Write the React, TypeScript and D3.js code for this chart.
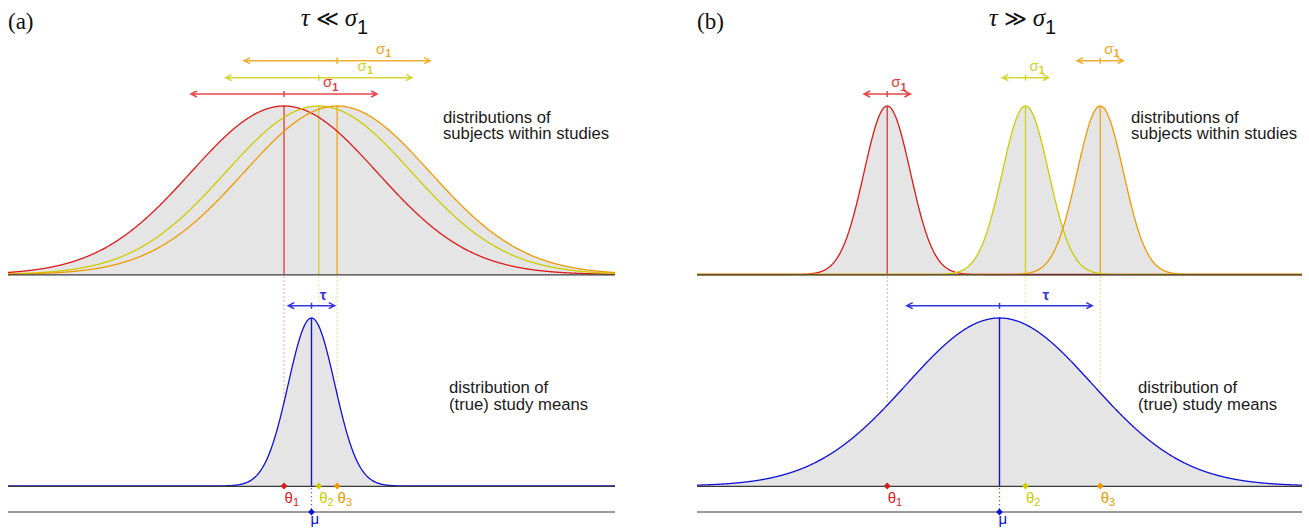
import React from "react";
import * as d3 from "d3";

// ---------- data ----------
const panelLabels = ["(a)", "(b)"];
const titleRelations = ["\u226A", "\u226B"];
const muValues = [0, 0];
const tauValues = [0.25, 1];
const sigmaValues = [1, 0.25];
const thetaA = [-0.295, 0.078, 0.275];
const thetaB = [-1.21, 0.28, 1.086];
const thetaSets = [thetaA, thetaB];
const studySubscripts = ["1", "2", "3"];
const studyColors = ["#dd1a1a", "#cccc00", "#ee9a00"];
const muColor = "#1010dd";
const topText = ["distributions of", "subjects within studies"];
const bottomText = ["distribution of", "(true) study means"];
const xDomain = [-3.26, 3.26];

// ---------- layout ----------
const W = 1309;
const H = 529;
const panelRanges = [
  [8, 615],
  [697, 1302],
];
const topBase = 274.5;
const topPeak = 106;
const botBase = 486;
const botPeak = 318;
const axisY = 512;
const sigmaArrowY = [94, 77.7, 60.7];
const tauArrowY = 305.7;

const FILL = "#e5e5e5";
const BASE = "#3a3a3a";
const SANS = "Liberation Sans, Arial, Helvetica, sans-serif";

const shape = (x: number, m: number, s: number) =>
  Math.exp(-0.5 * ((x - m) / s) * ((x - m) / s));

function Arrow({ x1, x2, y, color, opacity = 1, sw = 1.5 }: any) {
  const L = 6;
  const h = 3;
  const cx = (x1 + x2) / 2;
  const d =
    `M${x1},${y}L${x2},${y}` +
    `M${x1 + L},${y - h}L${x1},${y}L${x1 + L},${y + h}` +
    `M${x2 - L},${y - h}L${x2},${y}L${x2 - L},${y + h}` +
    `M${cx},${y - 3}L${cx},${y + 3}`;
  return (
    <path d={d} fill="none" stroke={color} strokeWidth={sw} opacity={opacity} />
  );
}

function Diamond({ x, y, color }: any) {
  const r = 3.4;
  return (
    <path
      d={`M${x},${y - r}L${x + r},${y}L${x},${y + r}L${x - r},${y}Z`}
      fill={color}
    />
  );
}

function Panel({ idx }: { idx: number }) {
  const range = panelRanges[idx];
  const x = d3.scaleLinear().domain(xDomain).range(range);
  const yTop = d3.scaleLinear().domain([0, 1]).range([topBase, topPeak]);
  const yBot = d3.scaleLinear().domain([0, 1]).range([botBase, botPeak]);
  const mu = muValues[idx];
  const tau = tauValues[idx];
  const sigma = sigmaValues[idx];
  const thetas = thetaSets[idx];
  const pts = d3.range(xDomain[0], xDomain[1] + 1e-9, 0.005);

  const topLine = d3.line<number>().x((d) => x(d));
  const unionArea = d3
    .area<number>()
    .x((d) => x(d))
    .y0(topBase)
    .y1((d) => yTop(d3.max(thetas, (t) => shape(d, t, sigma)) as number));
  const botArea = d3
    .area<number>()
    .x((d) => x(d))
    .y0(botBase)
    .y1((d) => yBot(shape(d, mu, tau)));
  const botLine = d3
    .line<number>()
    .x((d) => x(d))
    .y((d) => yBot(shape(d, mu, tau)));

  const sigPx = x(sigma) - x(0);
  const tauPx = x(tau) - x(0);
  const center = (range[0] + range[1]) / 2;
  const textX = [443, 1131][idx];
  const botTextX = [449, 1138][idx];

  return (
    <g>
      {/* panel label and title */}
      <text x={range[0]} y={29} fontFamily="Liberation Serif, Times New Roman, serif" fontSize={23} fill="#111">
        {panelLabels[idx]}
      </text>
      <text
        x={center + 23}
        y={26}
        textAnchor="middle"
        fontFamily="Liberation Serif, Times New Roman, serif"
        fontSize={25}
        fill="#111"
      >
        <tspan fontStyle="italic">τ</tspan>
        <tspan fontFamily="DejaVu Serif, serif" fontSize={22} dx={6}>
          {titleRelations[idx]}
        </tspan>
        <tspan fontStyle="italic" dx={6}>σ</tspan>
        <tspan fontFamily={SANS} fontSize={20} dy={8}>1</tspan>
      </text>

      {/* top: study distributions */}
      <path d={unionArea(pts) as string} fill={FILL} />
      {thetas.map((t, i) => (
        <line
          key={"dot" + i}
          x1={x(t)}
          x2={x(t)}
          y1={topBase + 2}
          y2={botBase}
          stroke={studyColors[i]}
          strokeOpacity={0.55}
          strokeWidth={1.2}
          strokeDasharray="1.2 2.8"
        />
      ))}
      {thetas.map((t, i) => (
        <line
          key={"v" + i}
          x1={x(t)}
          x2={x(t)}
          y1={yTop(1)}
          y2={topBase}
          stroke={studyColors[i]}
          strokeOpacity={0.85}
          strokeWidth={1.3}
        />
      ))}
      {thetas.map((t, i) => (
        <path
          key={"c" + i}
          d={topLine.y((d) => yTop(shape(d, t, sigma)))(pts) as string}
          fill="none"
          stroke={studyColors[i]}
          strokeWidth={1.3}
        />
      ))}
      <line x1={range[0]} x2={range[1]} y1={topBase + 0.4} y2={topBase + 0.4} stroke={BASE} strokeWidth={1.4} />
      {thetas.map((t, i) => (
        <g key={"a" + i}>
          <Arrow
            x1={x(t) - sigPx}
            x2={x(t) + sigPx}
            y={sigmaArrowY[i]}
            color={studyColors[i]}
            opacity={0.8}
          />
          <text
            x={x(t) + sigPx / 2}
            y={sigmaArrowY[i] - 7}
            textAnchor="middle"
            fontFamily={SANS}
            fontSize={15}
            fill={studyColors[i]}
            opacity={0.85}
          >
            σ
            <tspan fontSize={11} fontWeight="bold" dy={3.5}>1</tspan>
          </text>
        </g>
      ))}
      {topText.map((s, i) => (
        <text key={"tt" + i} x={textX} y={122.7 + i * 16.5} fontFamily={SANS} fontSize={16.7} fill="#1a1a1a">
          {s}
        </text>
      ))}

      {/* bottom: distribution of true means */}
      <path d={botArea(pts) as string} fill={FILL} />
      <line x1={x(mu)} x2={x(mu)} y1={yBot(1)} y2={botBase} stroke={muColor} strokeWidth={1.4} />
      <path d={botLine(pts) as string} fill="none" stroke={muColor} strokeWidth={1.3} />
      <line x1={range[0]} x2={range[1]} y1={botBase + 0.4} y2={botBase + 0.4} stroke={BASE} strokeWidth={1.4} />
      <Arrow x1={x(mu) - tauPx} x2={x(mu) + tauPx} y={tauArrowY} color={muColor} opacity={0.85} />
      <text
        x={x(mu) + tauPx / 2}
        y={tauArrowY - 6}
        textAnchor="middle"
        fontFamily={SANS}
        fontSize={15}
        fontWeight="bold"
        fill={muColor}
        opacity={0.85}
      >
        τ
      </text>
      {bottomText.map((s, i) => (
        <text key={"bt" + i} x={botTextX} y={393.3 + i * 17} fontFamily={SANS} fontSize={16.7} fill="#1a1a1a">
          {s}
        </text>
      ))}

      {/* axis with mu */}
      <line x1={range[0]} x2={range[1]} y1={axisY} y2={axisY} stroke="#9a9a9a" strokeWidth={2} />
      <line
        x1={x(mu)}
        x2={x(mu)}
        y1={botBase + 2}
        y2={axisY}
        stroke={muColor}
        strokeOpacity={0.7}
        strokeWidth={1.2}
        strokeDasharray="1.2 2.8"
      />
      {thetas.map((t, i) => (
        <g key={"d" + i}>
          <Diamond x={x(t)} y={botBase} color={studyColors[i]} />
          <text x={x(t) + 0.5} y={503} fontFamily={SANS} fontSize={15} fill={studyColors[i]}>
            θ
            <tspan fontSize={11} dy={3}>{studySubscripts[i]}</tspan>
          </text>
        </g>
      ))}
      <Diamond x={x(mu)} y={axisY} color={muColor} />
      <text x={x(mu) - 1} y={524} fontFamily={SANS} fontSize={15} fill={muColor}>
        μ
      </text>
    </g>
  );
}

export default function App() {
  return (
    <svg
      width={W}
      height={H}
      viewBox={`0 0 ${W} ${H}`}
      style={{ position: "absolute", left: 0, top: 0, background: "#fff" }}
    >
      <rect width={W} height={H} fill="#fff" />
      {panelLabels.map((_, i) => (
        <Panel key={i} idx={i} />
      ))}
    </svg>
  );
}
